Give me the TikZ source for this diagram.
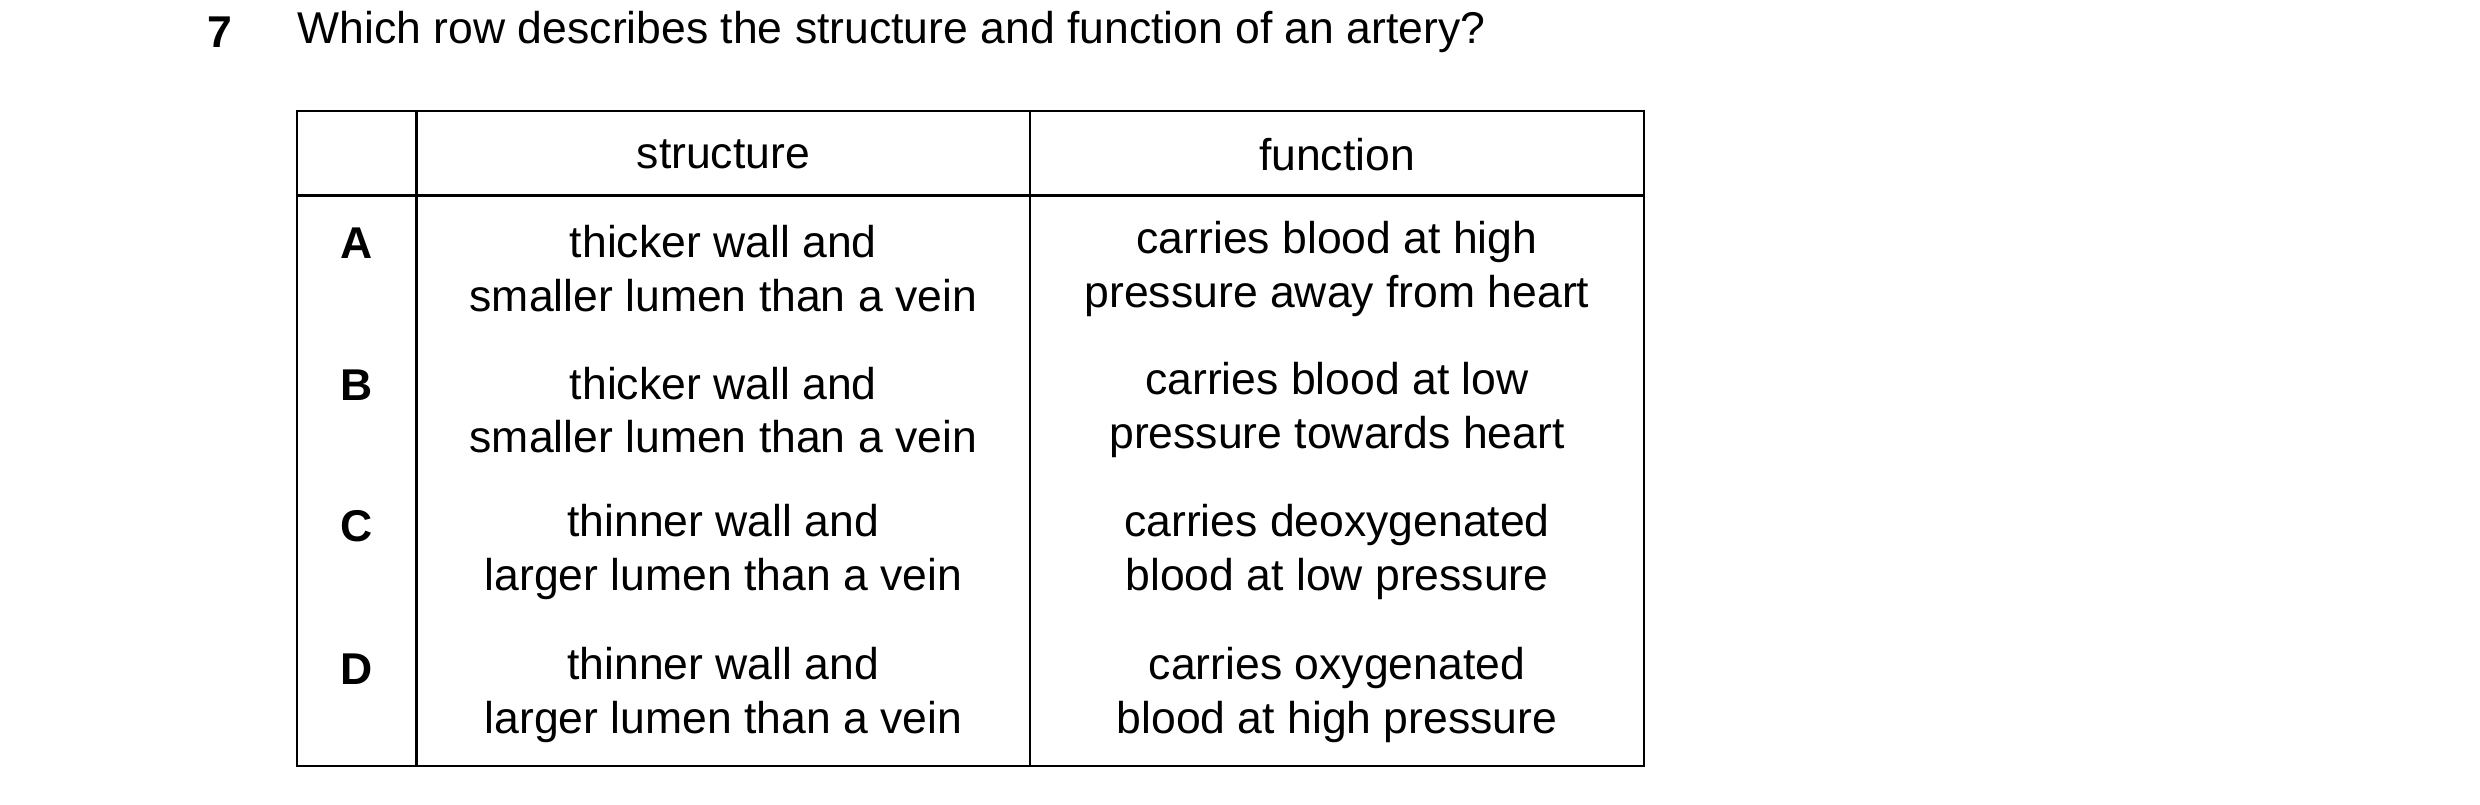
\documentclass[tikz,border=0pt]{standalone}
\usepackage{fontspec}
\setmainfont{Liberation Sans}
\begin{document}
\begin{tikzpicture}[x=0.5pt,y=-0.5pt,
  txt/.style={font=\fontsize{14}{16.9}\selectfont,align=center,inner sep=0pt},
  let/.style={font=\fontsize{14}{17}\selectfont\bfseries,inner sep=0pt},
  grid/.style={line width=0.7pt}]
\useasboundingbox (0,0) rectangle (1560,506);
\node[let] (num) at (138,20) {7};
\node[txt,anchor=west] (q) at (187,20) {Which row describes the structure and function of an artery?};
\draw[grid] (187,70) rectangle (1034,482);
\draw[grid] (187,123) -- (1034,123);
\draw[grid] (262,70) -- (262,482);
\draw[grid] (648,70) -- (648,482);
\node[txt] (hs) at (455,97) {structure};
\node[txt] (hf) at (841,97) {function};
\node[let] (la) at (224,153) {A};
\node[let] (lb) at (224,242) {B};
\node[let] (lc) at (224,331) {C};
\node[let] (ld) at (224,421) {D};
\node[txt] (sa) at (455,169) {thicker wall and\\smaller lumen than a vein};
\node[txt] (sb) at (455,258) {thicker wall and\\smaller lumen than a vein};
\node[txt] (sc) at (455,347) {thinner wall and\\larger lumen than a vein};
\node[txt] (sd) at (455,437) {thinner wall and\\larger lumen than a vein};
\node[txt] (fa) at (841,169) {carries blood at high\\pressure away from heart};
\node[txt] (fb) at (841,258) {carries blood at low\\pressure towards heart};
\node[txt] (fc) at (841,347) {carries deoxygenated\\blood at low pressure};
\node[txt] (fd) at (841,437) {carries oxygenated\\blood at high pressure};
\end{tikzpicture}
\end{document}
